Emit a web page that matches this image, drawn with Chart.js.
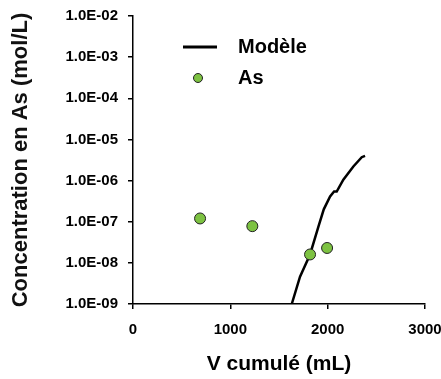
<!DOCTYPE html>
<html><head><meta charset="utf-8">
<script src="https://cdn.jsdelivr.net/npm/chart.js@4/dist/chart.umd.min.js"></script>
<style>html,body{margin:0;padding:0;background:#fff}#wrap{width:441px;height:379px}</style>
</head><body><div id="wrap"><canvas id="c" width="441" height="379"></canvas></div>
<script>
const modelX = [1631, 1716, 1819, 1905, 1960, 2025, 2066, 2093, 2161, 2264, 2350, 2384];
const modelY = [1e-9, 4.6e-9, 1.6e-8, 7.6e-8, 2.0e-7, 4.1e-7, 5.4e-7, 5.4e-7, 1.05e-6, 2.2e-6, 3.7e-6, 4.0e-6];
const asX = [689, 1226, 1819, 1994];
const asY = [1.2e-7, 7.8e-8, 1.6e-8, 2.3e-8];
const yTickValues = [1e-9, 1e-8, 1e-7, 1e-6, 1e-5, 1e-4, 1e-3, 1e-2];
const yTickLabels = ['1.0E-09','1.0E-08','1.0E-07','1.0E-06','1.0E-05','1.0E-04','1.0E-03','1.0E-02'];
const xTickLabels = ['0','1000','2000','3000'];
const legendLabels = ['Modèle', 'As'];

const green = '#7dc242';
const F = '"Liberation Sans", Arial, sans-serif';

const legendPlugin = {
  id: 'inLegend',
  afterDraw(chart) {
    const ctx = chart.ctx;
    ctx.save();
    ctx.strokeStyle = '#000'; ctx.lineWidth = 3;
    ctx.beginPath(); ctx.moveTo(183, 47); ctx.lineTo(217, 47); ctx.stroke();
    ctx.beginPath(); ctx.arc(198, 78, 4.5, 0, Math.PI*2);
    ctx.fillStyle = green; ctx.fill(); ctx.lineWidth = 1; ctx.strokeStyle = '#222'; ctx.stroke();
    ctx.fillStyle = '#000'; ctx.font = 'bold 20px ' + F; ctx.textBaseline = 'middle';
    ctx.fillText(legendLabels[0], 238, 47);
    ctx.fillText(legendLabels[1], 238, 78);
    ctx.restore();
  }
};

new Chart(document.getElementById('c'), {
  type: 'scatter',
  data: {
    datasets: [
      { label: legendLabels[0], data: modelX.map((x,i)=>({x, y: modelY[i]})), showLine: true,
        borderColor: '#000', borderWidth: 2.5, pointRadius: 0, tension: 0, order: 2 },
      { label: legendLabels[1], data: asX.map((x,i)=>({x, y: asY[i]})), showLine: false,
        backgroundColor: green, borderColor: '#222', borderWidth: 1, pointRadius: 5.5, order: 1 }
    ]
  },
  options: {
    responsive: false, animation: false, devicePixelRatio: 1,
    layout: { padding: { top: 16, right: 16, left: 0, bottom: 0 } },
    plugins: { legend: { display: false }, tooltip: { enabled: false } },
    scales: {
      x: {
        type: 'linear', min: 0, max: 3000,
        afterBuildTicks(s) { s.ticks = xTickLabels.map(v => ({ value: +v })); },
        afterFit(s) { s.height = 75; s.paddingRight = 0; s.paddingLeft = 0; },
        ticks: { color: '#000', font: { family: F, size: 15, weight: 'bold' }, padding: 12,
                 callback: (v, i) => xTickLabels[i], maxRotation: 0 },
        grid: { drawOnChartArea: false, drawTicks: true, tickLength: 5, color: '#000', lineWidth: 1.5 },
        border: { color: '#000', width: 1.5 },
        title: { display: true, text: 'V cumulé (mL)', color: '#000',
                 font: { family: F, size: 21, weight: 'bold' }, padding: { top: 12, bottom: 2 } }
      },
      y: {
        type: 'logarithmic', min: 1e-9, max: 1e-2,
        afterBuildTicks(s) { s.ticks = yTickValues.map(v => ({ value: v, major: true })); },
        afterFit(s) { s.width = 133; s.paddingTop = 0; s.paddingBottom = 0; },
        ticks: { color: '#000', font: { family: F, size: 15, weight: 'bold' }, padding: 10,
                 callback: (v, i) => yTickLabels[i], autoSkip: false },
        grid: { drawOnChartArea: false, drawTicks: true, tickLength: 5, color: '#000', lineWidth: 1.5 },
        border: { color: '#000', width: 1.5 },
        title: { display: true, text: 'Concentration en As (mol/L)', color: '#111',
                 font: { family: F, size: 22, weight: 'bold' }, padding: { top: 8, bottom: 0 } }
      }
    }
  },
  plugins: [legendPlugin]
});
</script>
</body></html>
